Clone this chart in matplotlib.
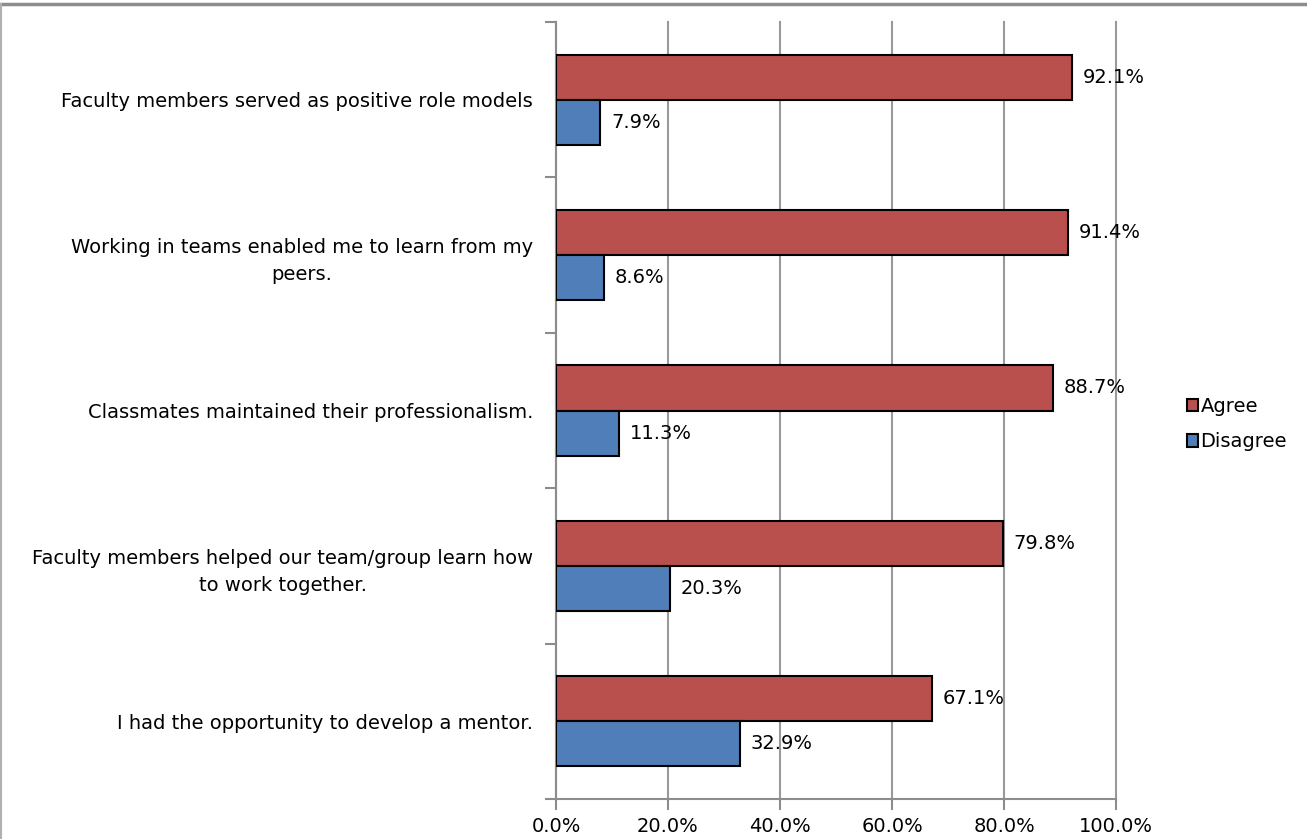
import matplotlib
matplotlib.use("Agg")
import matplotlib.pyplot as plt
import numpy as np
from matplotlib.lines import Line2D

categories = [
    "Faculty members served as positive role models",
    "Working in teams enabled me to learn from my\npeers.",
    "Classmates maintained their professionalism.",
    "Faculty members helped our team/group learn how\nto work together.",
    "I had the opportunity to develop a mentor.",
]
agree = [92.1, 91.4, 88.7, 79.8, 67.1]
disagree = [7.9, 8.6, 11.3, 20.3, 32.9]
xticks = [0, 20, 40, 60, 80, 100]

plt.rcParams['font.family'] = ['DejaVu Sans']
FS = 14

fig = plt.figure(figsize=(13.07, 8.39), dpi=100)
ax = fig.add_axes([556/1307, 1-799/839, (1116-556)/1307, (799-22)/839])

n = len(categories)
y = np.arange(n)[::-1].astype(float)
h = 0.29
agree_col = '#B9504D'
dis_col = '#4F7EB8'

ax.barh(y + h/2, agree, height=h, color=agree_col, edgecolor='black', linewidth=1.5, label='Agree', zorder=3)
ax.barh(y - h/2, disagree, height=h, color=dis_col, edgecolor='black', linewidth=1.5, label='Disagree', zorder=3)

for yi, a, d in zip(y, agree, disagree):
    ax.text(a + 1.9, yi + h/2, f"{a:.1f}%", va='center', ha='left', fontsize=FS, zorder=4)
    ax.text(d + 1.9, yi - h/2, f"{d:.1f}%", va='center', ha='left', fontsize=FS, zorder=4)

ax.set_xlim(0, 100)
ax.set_ylim(-0.5, n - 0.5)
ax.set_xticks(xticks)
ax.set_xticklabels([f"{v:.1f}%" for v in xticks], fontsize=FS)
ax.set_yticks(y)
ax.set_yticklabels(categories, fontsize=FS)
for lab in ax.get_yticklabels():
    lab.set_multialignment('center')
    lab.set_linespacing(1.55)
ax.set_yticks(np.arange(-0.5, n, 1.0), minor=True)
ax.tick_params(axis='y', which='major', length=0, pad=16.5)
ax.tick_params(axis='y', which='minor', length=8, width=1.5, color='#8C8C8C', direction='out')
ax.tick_params(axis='x', which='major', length=8, width=1.5, color='#8C8C8C', direction='out', pad=5)

ax.grid(axis='x', color='#999999', linewidth=1.5, zorder=0)
for gl in ax.get_xgridlines():
    gl.set_clip_on(False)
ax.set_axisbelow(True)
for s in ['top', 'right']:
    ax.spines[s].set_visible(False)
for s in ['left', 'bottom']:
    ax.spines[s].set_color('#8C8C8C')
    ax.spines[s].set_linewidth(1.5)

leg = ax.legend(loc='center left', bbox_to_anchor=(1169/1307, 415/839), bbox_transform=fig.transFigure,
                frameon=False, fontsize=FS, handlelength=0.6, handleheight=0.6, handletextpad=0.12,
                labelspacing=0.85)

fig.lines.append(Line2D([0, 1], [1-4/839, 1-4/839], transform=fig.transFigure, color='#8C8C8C', linewidth=2.5))
fig.lines.append(Line2D([0.5/1307, 0.5/1307], [0, 1-4/839], transform=fig.transFigure, color='#B0B0B0', linewidth=1.5))

fig.savefig('out.png', dpi=100, facecolor='white')
